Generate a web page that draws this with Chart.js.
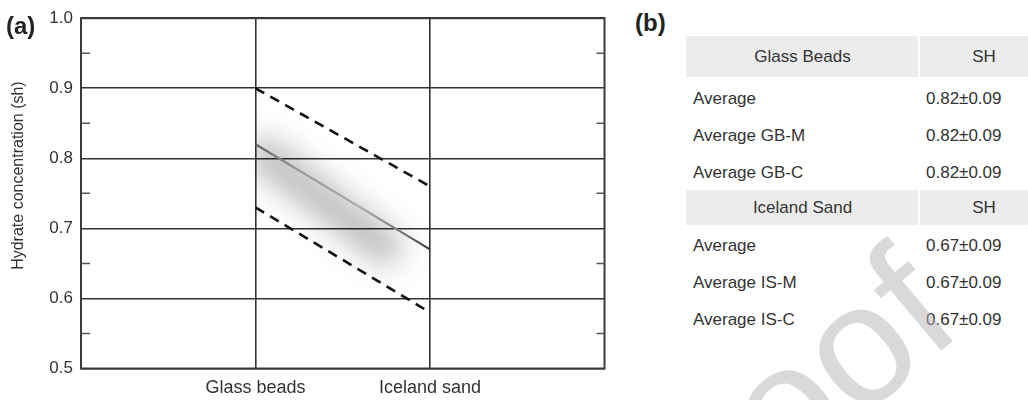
<!DOCTYPE html>
<html>
<head>
<meta charset="utf-8">
<script src="https://cdn.jsdelivr.net/npm/chart.js@4"></script>
<style>
  html, body { margin: 0; padding: 0; background: #fff; }
  body { width: 1028px; height: 400px; position: relative; overflow: hidden;
         font-family: 'Liberation Sans', Arial, sans-serif; color: #333; }
  #chart-wrap { position: absolute; left: 0; top: 0; width: 620px; height: 400px; }
  .panel-tag { position: absolute; font-weight: bold; font-size: 24px; line-height: 28px; color: #222; }
  .cell { position: absolute; font-size: 17px; line-height: 20px; color: #333; white-space: nowrap; }
  .head { position: absolute; background: #ececec; }
  #watermark { position: absolute; left: 0; top: 0; pointer-events: none; }
</style>
</head>
<body>
<div id="chart-wrap"><canvas id="chart"></canvas></div>
<div class="panel-tag" style="left:6px; top:12px;">(a)</div>
<div class="panel-tag" style="left:635px; top:9px;">(b)</div>
<div id="table"></div>
<canvas id="watermark" width="1028" height="400"></canvas>

<script>
// --- Data (panel a) ---
const categories = ['Glass beads', 'Iceland sand'];
const catPos = [1, 2];
const meanSH = [0.82, 0.67];
const upperSH = [0.90, 0.76];
const lowerSH = [0.73, 0.58];
const yMin = 0.5;
const yMax = 1.0;

// --- Data (panel b) ---
const gbHeader = ['Glass Beads', 'SH'];
const gbLabels = ['Average', 'Average GB-M', 'Average GB-C'];
const gbValues = ['0.82±0.09', '0.82±0.09', '0.82±0.09'];
const isHeader = ['Iceland Sand', 'SH'];
const isLabels = ['Average', 'Average IS-M', 'Average IS-C'];
const isValues = ['0.67±0.09', '0.67±0.09', '0.67±0.09'];

const FONT = "'Liberation Sans', Arial, sans-serif";
const INK = '#333';

function toPoints(vals) {
  return vals.map((v, i) => ({ x: catPos[i], y: v }));
}

function isMajor(v) {
  return Math.round(v * 100) % 10 === 0;
}

// --- Plugins ---
// soft grey haze around the average line
const glowPlugin = {
  id: 'glow',
  beforeDatasetsDraw(chart) {
    const { ctx, chartArea, scales: { x, y } } = chart;
    const x0 = x.getPixelForValue(catPos[0]);
    const x1 = x.getPixelForValue(catPos[1]);
    const y0 = y.getPixelForValue(meanSH[0]);
    const y1 = y.getPixelForValue(meanSH[1]);
    ctx.save();
    ctx.beginPath();
    ctx.rect(x0, chartArea.top, x1 - x0, chartArea.height);
    ctx.clip();
    ctx.filter = 'blur(15px)';
    ctx.strokeStyle = 'rgba(0,0,0,0.27)';
    ctx.lineWidth = 34;
    ctx.lineCap = 'round';
    ctx.beginPath();
    ctx.moveTo(x0 + 8, y0 + 10);
    ctx.lineTo(x1 - 45, y1 - 2);
    ctx.stroke();
    ctx.restore();
  }
};

const framePlugin = {
  id: 'frame',
  afterDraw(chart) {
    const { ctx, chartArea: a, scales: { y } } = chart;
    ctx.save();
    ctx.strokeStyle = '#3a3a3a';
    ctx.lineWidth = 2;
    ctx.strokeRect(a.left, a.top, a.right - a.left, a.bottom - a.top);
    // inward minor ticks on both sides
    ctx.strokeStyle = '#555';
    ctx.lineWidth = 1.5;
    y.ticks.forEach(t => {
      if (isMajor(t.value)) return;
      const py = y.getPixelForValue(t.value);
      ctx.beginPath();
      ctx.moveTo(a.left, py); ctx.lineTo(a.left + 9, py);
      ctx.moveTo(a.right, py); ctx.lineTo(a.right - 8, py);
      ctx.stroke();
    });
    ctx.restore();
  }
};

// --- Chart ---
const ctx = document.getElementById('chart').getContext('2d');
new Chart(ctx, {
  type: 'line',
  data: {
    datasets: [
      {
        label: 'Upper',
        data: toPoints(upperSH),
        borderColor: '#111',
        borderWidth: 2.6,
        borderDash: [10, 7],
        pointRadius: 0
      },
      {
        label: 'Average',
        data: toPoints(meanSH),
        borderWidth: 2.2,
        pointRadius: 0,
        borderColor(context) {
          const chart = context.chart;
          if (!chart.chartArea) return '#888';
          const x = chart.scales.x;
          const g = chart.ctx.createLinearGradient(x.getPixelForValue(catPos[0]), 0, x.getPixelForValue(catPos[1]), 0);
          g.addColorStop(0, '#666');
          g.addColorStop(0.25, '#999');
          g.addColorStop(0.6, '#aaa');
          g.addColorStop(0.85, '#777');
          g.addColorStop(1, '#3a3a3a');
          return g;
        }
      },
      {
        label: 'Lower',
        data: toPoints(lowerSH),
        borderColor: '#111',
        borderWidth: 2.6,
        borderDash: [10, 7],
        pointRadius: 0
      }
    ]
  },
  options: {
    responsive: true,
    maintainAspectRatio: false,
    animation: false,
    layout: { padding: { top: 14, right: 15.5, left: 0, bottom: 0 } },
    plugins: { legend: { display: false }, tooltip: { enabled: false } },
    scales: {
      x: {
        type: 'linear',
        min: 0,
        max: 3,
        afterFit(scale) { scale.height = 31.5; },
        ticks: {
          stepSize: 1,
          autoSkip: false,
          maxRotation: 0,
          padding: 9,
          color: INK,
          font: { family: FONT, size: 18 },
          callback(v) {
            const i = catPos.indexOf(v);
            return i >= 0 ? categories[i] : '';
          }
        },
        grid: {
          drawTicks: false,
          lineWidth: 1.6,
          color(c) { return catPos.includes(c.tick.value) ? '#333' : 'rgba(0,0,0,0)'; }
        },
        border: { display: false }
      },
      y: {
        min: yMin,
        max: yMax,
        afterFit(scale) { scale.width = 81; },
        ticks: {
          stepSize: 0.05,
          autoSkip: false,
          padding: 8,
          color: INK,
          font: { family: FONT, size: 17 },
          callback(v) { return isMajor(v) ? v.toFixed(1) : ''; }
        },
        grid: {
          drawTicks: false,
          lineWidth: 1.6,
          color(c) { return isMajor(c.tick.value) ? '#333' : 'rgba(0,0,0,0)'; }
        },
        border: { display: false },
        title: {
          display: true,
          text: '\u00a0\u00a0\u00a0\u00a0\u00a0\u00a0\u00a0\u00a0Hydrate concentration (sh)',
          color: INK,
          font: { family: FONT, size: 16 },
          padding: { top: 9, bottom: 0 }
        }
      }
    }
  },
  plugins: [glowPlugin, framePlugin]
});

// --- Table (panel b) ---
const table = document.getElementById('table');
const TL = 686, SPLIT = 919, TR = 1040;

function addHead(top, h, cols) {
  table.insertAdjacentHTML('beforeend',
    `<div class="head" style="left:${TL}px; top:${top}px; width:${SPLIT - TL - 1}px; height:${h}px;"></div>` +
    `<div class="head" style="left:${SPLIT + 1}px; top:${top}px; width:${TR - SPLIT}px; height:${h}px;"></div>` +
    `<div class="cell" style="left:${TL}px; width:${SPLIT - TL}px; text-align:center; top:${top + h / 2 - 10}px;">${cols[0]}</div>` +
    `<div class="cell" style="left:${SPLIT + 45}px; width:40px; text-align:center; top:${top + h / 2 - 10}px;">${cols[1]}</div>`);
}

function addRows(centers, labels, values) {
  labels.forEach((lab, i) => {
    table.insertAdjacentHTML('beforeend',
      `<div class="cell" style="left:${TL + 7}px; top:${centers[i] - 10}px;">${lab}</div>` +
      `<div class="cell" style="left:${SPLIT + 7}px; top:${centers[i] - 10}px;">${values[i]}</div>`);
  });
}

addHead(36, 41, gbHeader);
addRows([99, 136, 173], gbLabels, gbValues);
addHead(190, 35, isHeader);
addRows([246, 283, 320], isLabels, isValues);

// --- Watermark ---
const wm = document.getElementById('watermark').getContext('2d');
wm.save();
wm.translate(966, 330);
wm.rotate(-40 * Math.PI / 180);
wm.font = `170px ${FONT}`;
wm.textAlign = 'right';
wm.fillStyle = 'rgba(180,180,180,0.5)';
wm.fillText('Journal Pre-proof', 0, 0);
wm.restore();
</script>
</body>
</html>
